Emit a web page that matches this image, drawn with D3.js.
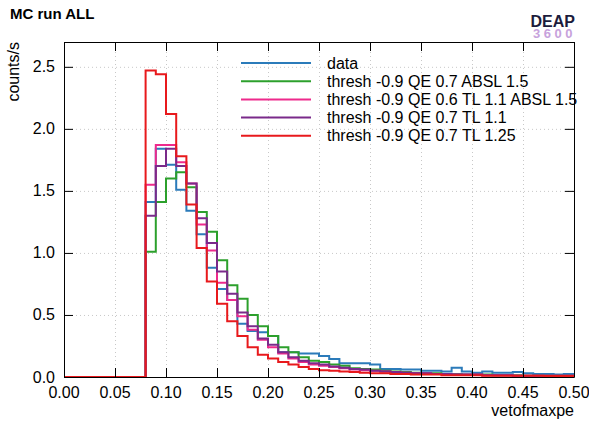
<!DOCTYPE html>
<html>
<head>
<meta charset="utf-8">
<script src="https://cdn.jsdelivr.net/npm/d3@7"></script>
<style>
  body { margin: 0; background: #fff; }
  svg { display: block; font-family: 'Liberation Sans', Arial, sans-serif; }
  .grid line { stroke: #c8c8c8; stroke-dasharray: 1,3; }
  .grid path { display: none; }
  .ax path { stroke: #000; stroke-width: 1; }
  .ax line { stroke: #000; }
</style>
</head>
<body>
<div id="chart"></div>
<script>
// bin edges 0.00 .. 0.50, width 0.01 (50 bins)
const binWidth = 0.01;
const nBins = 50;
const zeros = new Array(8).fill(0);

const dataCounts = zeros.concat([
  1.41, 1.84, 1.71, 1.51, 1.34, 1.15, 0.88, 0.71, 0.62, 0.43,
  0.37, 0.36, 0.33, 0.20, 0.20, 0.19, 0.19, 0.17, 0.145, 0.11,
  0.11, 0.11, 0.10, 0.065, 0.065, 0.06, 0.06, 0.05, 0.05, 0.045,
  0.075, 0.045, 0.035, 0.045, 0.035, 0.035, 0.04, 0.03, 0.025, 0.025,
  0.02, 0.025
]);
const absl15 = zeros.concat([
  1.01, 1.41, 1.60, 1.65, 1.53, 1.33, 1.17, 0.94, 0.74, 0.63,
  0.50, 0.41, 0.33, 0.24, 0.20, 0.16, 0.13, 0.12, 0.10, 0.09,
  0.07, 0.065, 0.06, 0.05, 0.045, 0.04, 0.035, 0.03, 0.03, 0.025,
  0.025, 0.02, 0.02, 0.02, 0.015, 0.015, 0.015, 0.01, 0.01, 0.01,
  0.01, 0.01
]);
const qe06tl11 = zeros.concat([
  1.55, 1.87, 1.87, 1.73, 1.56, 1.23, 1.02, 0.76, 0.62, 0.49,
  0.38, 0.30, 0.24, 0.19, 0.15, 0.12, 0.10, 0.09, 0.08, 0.07,
  0.06, 0.055, 0.05, 0.045, 0.04, 0.035, 0.03, 0.03, 0.025, 0.025,
  0.02, 0.02, 0.02, 0.015, 0.015, 0.015, 0.01, 0.01, 0.01, 0.01,
  0.01, 0.01
]);
const tl11 = zeros.concat([
  1.30, 1.70, 1.84, 1.70, 1.56, 1.28, 1.08, 0.85, 0.67, 0.52,
  0.41, 0.31, 0.26, 0.20, 0.16, 0.13, 0.11, 0.10, 0.085, 0.075,
  0.065, 0.06, 0.05, 0.045, 0.04, 0.035, 0.03, 0.03, 0.025, 0.025,
  0.02, 0.02, 0.02, 0.015, 0.015, 0.015, 0.01, 0.01, 0.01, 0.01,
  0.01, 0.01
]);
const tl125 = zeros.concat([
  2.47, 2.44, 2.12, 1.78, 1.39, 1.04, 0.77, 0.59, 0.45, 0.33,
  0.24, 0.18, 0.15, 0.12, 0.10, 0.08, 0.065, 0.055, 0.05, 0.045,
  0.04, 0.035, 0.03, 0.03, 0.025, 0.025, 0.02, 0.02, 0.02, 0.015,
  0.015, 0.015, 0.015, 0.01, 0.01, 0.01, 0.01, 0.01, 0.01, 0.008,
  0.008, 0.008
]);

const seriesNames = [
  'data',
  'thresh -0.9 QE 0.7 ABSL 1.5',
  'thresh -0.9 QE 0.6 TL 1.1 ABSL 1.5',
  'thresh -0.9 QE 0.7 TL 1.1',
  'thresh -0.9 QE 0.7 TL 1.25'
];
const seriesValues = [dataCounts, absl15, qe06tl11, tl11, tl125];
const seriesColors = ['#2b7bba', '#2ca02c', '#ee2a8c', '#7a2a8a', '#e8191c'];

const xTicks = [0, 0.05, 0.1, 0.15, 0.2, 0.25, 0.3, 0.35, 0.4, 0.45, 0.5];
const yTicks = [0, 0.5, 1.0, 1.5, 2.0, 2.5];

const w = 589;
const h = 427;
const margin = { top: 42, right: 15, bottom: 50, left: 64 };

const svg = d3.select('#chart').append('svg')
  .attr('width', w)
  .attr('height', h);

const x = d3.scaleLinear().domain([0, 0.5]).range([margin.left, w - margin.right]);
const y = d3.scaleLinear().domain([0, 2.7]).range([h - margin.bottom, margin.top]);

// GRID ---------------------------
svg.append('g').attr('class', 'grid')
  .attr('transform', `translate(0,${h - margin.bottom})`)
  .call(d3.axisBottom(x).tickValues(xTicks.slice(1, -1))
    .tickSize(-(h - margin.top - margin.bottom)).tickFormat(''));
svg.append('g').attr('class', 'grid')
  .attr('transform', `translate(${margin.left},0)`)
  .call(d3.axisLeft(y).tickValues(yTicks.slice(1))
    .tickSize(-(w - margin.left - margin.right)).tickFormat(''));

// HISTOGRAMS ---------------------
const line = d3.line()
  .x((d) => x(d[0]))
  .y((d) => y(d[1]))
  .curve(d3.curveStepAfter);

seriesValues.forEach((vals, k) => {
  const pts = vals.map((v, i) => [i * binWidth, v]);
  pts.push([nBins * binWidth, vals[vals.length - 1]]);
  svg.append('path')
    .datum(pts)
    .attr('fill', 'none')
    .attr('stroke', seriesColors[k])
    .attr('stroke-width', 2)
    .attr('d', line);
});

// AXES ---------------------------
const minorX = d3.range(0, 51).map((i) => i / 100);
const minorY = d3.range(0, 28).map((i) => i / 10);
const fmtX = d3.format('.2f');
const fmtY = d3.format('.1f');

function axisPair(gen, pos, tr, major, minor) {
  const g = svg.append('g').attr('class', 'ax').attr('transform', tr);
  g.call(gen(pos).tickValues(minor).tickSizeInner(-4.5).tickSizeOuter(0).tickFormat(''));
  g.call(gen(pos).tickValues(major).tickSizeInner(-9).tickSizeOuter(0).tickFormat(''));
  return g;
}

axisPair(d3.axisBottom, x, `translate(0,${h - margin.bottom})`, xTicks, minorX);
axisPair(d3.axisTop, x, `translate(0,${margin.top})`, xTicks, minorX);
axisPair(d3.axisLeft, y, `translate(${margin.left},0)`, yTicks, minorY);
axisPair(d3.axisRight, y, `translate(${w - margin.right},0)`, yTicks, minorY);

svg.selectAll('.ax text').remove();
// tick labels
xTicks.forEach((t) => {
  svg.append('text')
    .attr('x', x(t)).attr('y', h - margin.bottom + 21)
    .attr('text-anchor', 'middle')
    .style('font-size', '16px')
    .text(fmtX(t));
});
yTicks.forEach((t) => {
  svg.append('text')
    .attr('x', margin.left - 9).attr('y', y(t) + 5.5)
    .attr('text-anchor', 'end')
    .style('font-size', '16px')
    .text(fmtY(t));
});

// LABELS -------------------------
svg.append('text')
  .attr('x', w - margin.right).attr('y', 416)
  .attr('text-anchor', 'end')
  .style('font-size', '16px')
  .text('vetofmaxpe');

svg.append('text')
  .attr('transform', `translate(19,${margin.top}) rotate(-90)`)
  .attr('text-anchor', 'end')
  .style('font-size', '16px')
  .text('counts/s');

svg.append('text')
  .attr('x', 10).attr('y', 19)
  .style('font-size', '15px')
  .style('font-weight', 'bold')
  .text('MC run ALL');

svg.append('text')
  .attr('x', 575).attr('y', 27)
  .attr('text-anchor', 'end')
  .style('font-size', '16px')
  .style('font-weight', 'bold')
  .attr('fill', '#1c1c3c')
  .text('DEAP');
svg.append('text')
  .attr('x', 576).attr('y', 38)
  .attr('text-anchor', 'end')
  .style('font-size', '13px')
  .style('font-weight', 'bold')
  .style('letter-spacing', '3.5px')
  .attr('fill', '#c7a2dc')
  .text('3600');

// LEGEND -------------------------
const legend = svg.append('g').attr('transform', 'translate(241,63)');
seriesNames.forEach((name, i) => {
  const row = legend.append('g').attr('transform', `translate(0,${i * 18.2})`);
  row.append('line')
    .attr('x1', 0).attr('x2', 70)
    .attr('stroke', seriesColors[i]).attr('stroke-width', 2);
  row.append('text')
    .attr('x', 86).attr('y', 5.5)
    .style('font-size', '16px')
    .text(name);
});
</script>
</body>
</html>
